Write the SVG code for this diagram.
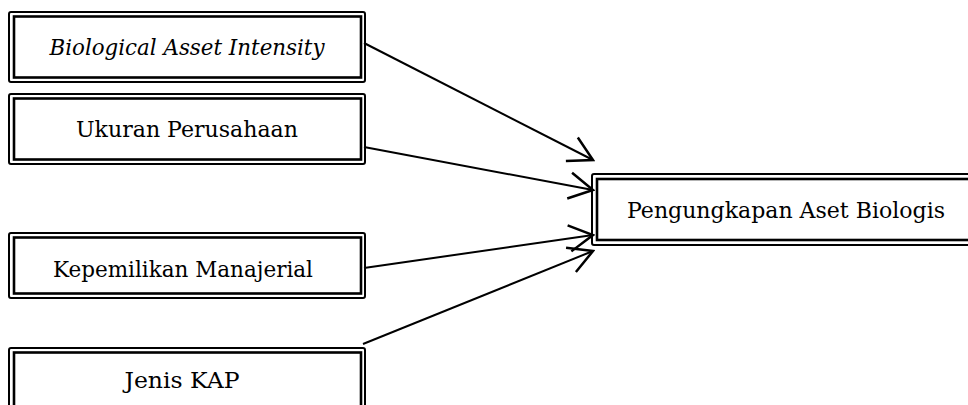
<svg xmlns="http://www.w3.org/2000/svg" width="968" height="405" viewBox="0 0 968 405">
<style>
.outer{fill:none;stroke:#000;stroke-width:2}
.inner{fill:none;stroke:#000;stroke-width:2.6}
.t{font-family:"DejaVu Serif","Liberation Serif",serif;font-size:22px;fill:#000;text-anchor:middle}
.it{font-style:italic}
.c{stroke:#000;stroke-width:2;fill:none}
</style>
<defs>
<marker id="arr" markerUnits="userSpaceOnUse" markerWidth="30" markerHeight="30" viewBox="-22 -12 24 24" refX="0" refY="0" orient="auto">
<path d="M-19,-10.5 L0,0 L-19,10.5" fill="none" stroke="#000" stroke-width="2"/>
</marker>
</defs>
<rect width="968" height="405" fill="#fff"/>
<g id="n1">
<rect class="outer" x="9" y="12" width="356" height="70" rx="2"/>
<rect class="inner" x="14" y="16.5" width="347" height="61"/>
<text class="t it" x="187" y="55" textLength="275" lengthAdjust="spacingAndGlyphs">Biological Asset Intensity</text>
</g>
<g id="n2">
<rect class="outer" x="9" y="94" width="356" height="70" rx="2"/>
<rect class="inner" x="14" y="98.5" width="347" height="61"/>
<text class="t" x="187" y="137" textLength="222" lengthAdjust="spacingAndGlyphs">Ukuran Perusahaan</text>
</g>
<g id="n3">
<rect class="outer" x="9" y="233" width="356" height="65" rx="2"/>
<rect class="inner" x="14" y="237.5" width="347" height="56"/>
<text class="t" x="183" y="277" textLength="260" lengthAdjust="spacingAndGlyphs">Kepemilikan Manajerial</text>
</g>
<g id="n4">
<rect class="outer" x="9" y="348" width="356" height="70" rx="2"/>
<rect class="inner" x="14" y="352.5" width="347" height="70"/>
<text class="t" x="182" y="388" textLength="115" lengthAdjust="spacingAndGlyphs">Jenis KAP</text>
</g>
<g id="target">
<rect class="outer" x="592" y="174" width="390" height="71" rx="2"/>
<rect class="inner" x="597" y="179" width="380" height="61"/>
<text class="t" x="786" y="218" textLength="318" lengthAdjust="spacingAndGlyphs">Pengungkapan Aset Biologis</text>
</g>
<g id="connectors">
<line class="c" x1="364" y1="43" x2="593" y2="160" marker-end="url(#arr)"/>
<line class="c" x1="364" y1="147" x2="593" y2="190" marker-end="url(#arr)"/>
<line class="c" x1="364" y1="268" x2="593" y2="235" marker-end="url(#arr)"/>
<line class="c" x1="363" y1="344" x2="593" y2="251" marker-end="url(#arr)"/>
</g>
</svg>
